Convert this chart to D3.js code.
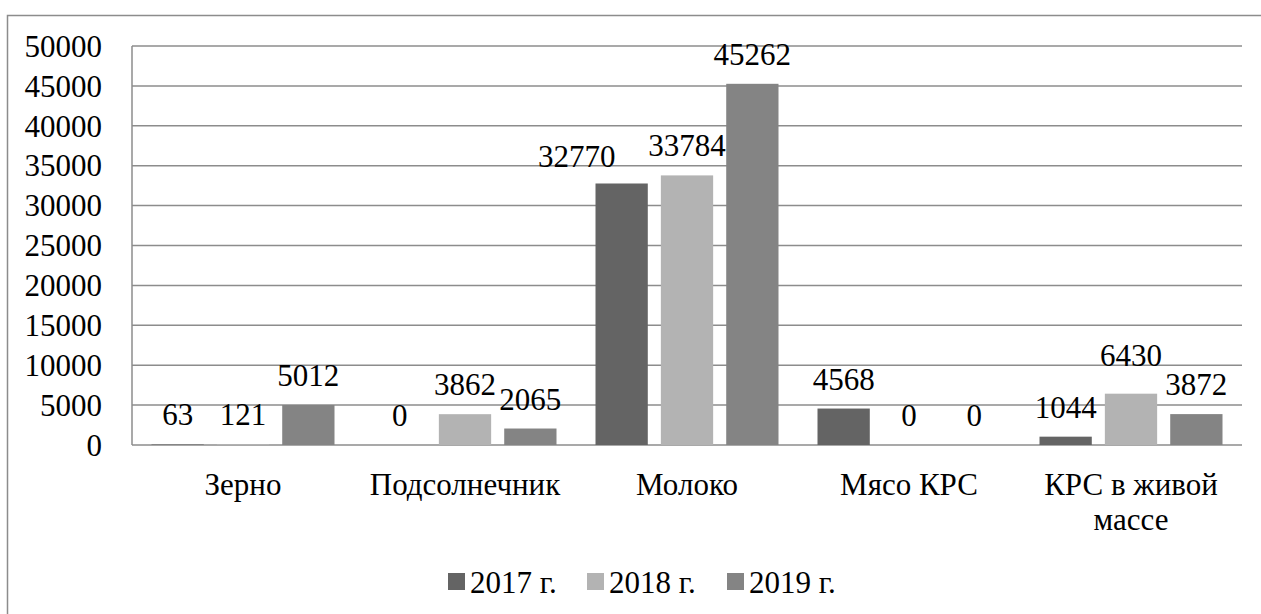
<!DOCTYPE html>
<html>
<head>
<meta charset="utf-8"/>
<title>Chart</title>
<script src="https://cdnjs.cloudflare.com/ajax/libs/d3/7.8.5/d3.min.js"></script>
<style>
  body { margin: 0; background: #fff; }
</style>
</head>
<body>
<div id="chart"></div>
<script>
    // data
    var categories = ["Зерно", "Подсолнечник", "Молоко", "Мясо КРС", "КРС в живой массе"];
    var seriesNames = ["2017 г.", "2018 г.", "2019 г."];
    var values2017 = [63, 0, 32770, 4568, 1044];
    var values2018 = [121, 3862, 33784, 0, 6430];
    var values2019 = [5012, 2065, 45262, 0, 3872];
    var yTicks = [0, 5000, 10000, 15000, 20000, 25000, 30000, 35000, 40000, 45000, 50000];
    var colors = ["#646464", "#b3b3b3", "#848484"];

    var W = 1261, H = 614;
    var margin = {top: 46, right: 19, bottom: 169, left: 132};
    var width = W - margin.left - margin.right,
        height = H - margin.top - margin.bottom;
    var fontSize = 31;
    var FONT = "Liberation Serif, Tinos, DejaVu Serif, Noto Serif, serif";

    // hand nudges of a few labels, as in the original (dx, dy in px)
    var labelNudge = { "2017 г.|Молоко": [-45, 3], "2018 г.|КРС в живой массе": [0, -9] };

    var svg = d3.select("#chart")
        .append("svg")
        .attr("width", W)
        .attr("height", H)
        .attr("font-family", FONT);

    // outer frame
    svg.append("path")
        .attr("d", "M7.5," + (H + 5) + "V15.5H" + (W + 5))
        .attr("fill", "none")
        .attr("stroke", "#8c8c8c")
        .attr("stroke-width", 1.5);

    var g = svg.append("g")
        .attr("transform", "translate(" + margin.left + "," + margin.top + ")");

    var series = [values2017, values2018, values2019].map(function(vals, i) {
        return { name: seriesNames[i], color: colors[i], values: vals };
    });

    var x0 = d3.scaleBand()
        .domain(categories)
        .range([0, width]);

    var x1 = d3.scaleBand()
        .domain(seriesNames)
        .range([19.5, x0.bandwidth() - 19.5])
        .paddingInner(0.2);

    var y = d3.scaleLinear()
        .domain([0, 50000])
        .range([height, 0]);

    // gridlines
    g.append("g")
        .selectAll("line")
        .data(yTicks)
        .enter()
        .append("line")
        .attr("x1", 0)
        .attr("x2", width)
        .attr("y1", function(d) { return y(d); })
        .attr("y2", function(d) { return y(d); })
        .attr("stroke", "#8c8c8c")
        .attr("stroke-width", 1.5);

    // left axis line
    g.append("line")
        .attr("x1", 0).attr("x2", 0)
        .attr("y1", 0).attr("y2", height)
        .attr("stroke", "#8c8c8c")
        .attr("stroke-width", 1.5);

    // y labels
    var yAxis = g.append("g")
        .call(d3.axisLeft(y).tickValues(yTicks).tickFormat(d3.format("d")).tickSize(0).tickPadding(30));
    yAxis.select(".domain").remove();
    yAxis.attr("font-family", FONT).attr("font-size", fontSize);
    yAxis.selectAll("text")
        .attr("fill", "#000")
        .attr("dy", "0.33em");

    // bars
    var groups = g.selectAll(".grp")
        .data(series)
        .enter()
        .append("g");

    function rows(s) {
        return s.values.map(function(v, i) { return {s: s, cat: categories[i], v: v}; });
    }

    groups.selectAll("rect")
        .data(rows)
        .enter()
        .append("rect")
        .attr("x", function(d) { return x0(d.cat) + x1(d.s.name); })
        .attr("y", function(d) { return y(d.v); })
        .attr("width", x1.bandwidth())
        .attr("height", function(d) { return height - y(d.v); })
        .attr("fill", function(d) { return d.s.color; });

    // value labels
    groups.selectAll("text")
        .data(rows)
        .enter()
        .append("text")
        .attr("x", function(d) {
            var n = labelNudge[d.s.name + "|" + d.cat];
            return x0(d.cat) + x1(d.s.name) + x1.bandwidth() / 2 + (n ? n[0] : 0);
        })
        .attr("y", function(d) {
            var n = labelNudge[d.s.name + "|" + d.cat];
            return y(d.v) - 19 + (n ? n[1] : 0);
        })
        .attr("text-anchor", "middle")
        .attr("font-size", fontSize)
        .text(function(d) { return d.v; });

    // category labels (wrapped)
    var catLabels = g.selectAll(".cat")
        .data(categories)
        .enter()
        .append("text")
        .attr("text-anchor", "middle")
        .attr("font-size", fontSize)
        .attr("transform", function(d) { return "translate(" + (x0(d) + x0.bandwidth() / 2) + "," + (height + 50) + ")"; });

    catLabels.each(function(d) {
        var lines = d === "КРС в живой массе" ? ["КРС в живой", "массе"] : [d];
        var t = d3.select(this);
        lines.forEach(function(line, i) {
            t.append("tspan")
                .attr("x", 0)
                .attr("y", i * 35)
                .text(line);
        });
    });

    // legend
    var legendX = [448, 587, 727];
    var legend = svg.append("g");
    series.forEach(function(s, i) {
        legend.append("rect")
            .attr("x", legendX[i])
            .attr("y", 573)
            .attr("width", 17)
            .attr("height", 17)
            .attr("fill", s.color);
        legend.append("text")
            .attr("x", legendX[i] + 22)
            .attr("y", 593)
            .attr("font-size", fontSize)
            .text(s.name);
    });
</script>
</body>
</html>
